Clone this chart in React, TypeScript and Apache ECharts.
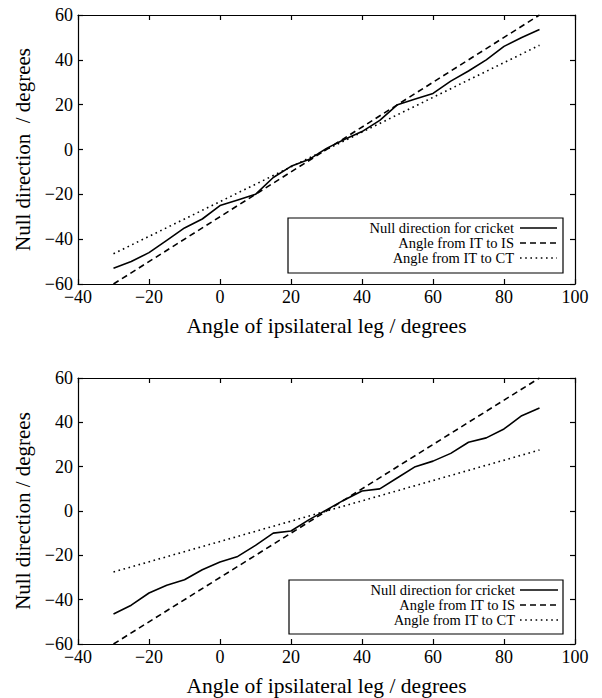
import React, { useEffect, useRef } from "react";
import * as echarts from "echarts";

const angles = [-30, -25, -20, -15, -10, -5, 0, 5, 10, 15, 20, 25, 30, 35, 40, 45, 50, 55, 60, 65, 70, 75, 80, 85, 90];
const nullTop = [-53, -50, -46, -40.5, -35, -31, -25, -22.5, -20, -12.5, -7.5, -4.5, 0.5, 4.5, 8, 13, 20, 22.5, 25, 30.5, 35, 40, 46, 50, 53.5];
const nullBottom = [-46.5, -42.5, -37, -33.5, -31, -26.5, -23, -20.5, -15.5, -10, -9, -4, 0.5, 5, 9, 10, 15, 20, 22.5, 26, 31, 33, 37, 43, 46.5];
const lineEnds = [-30, 90];
const itIsTop = [-60, 60];
const itCtTop = [-46.5, 46.5];
const itIsBottom = [-60, 60];
const itCtBottom = [-27.5, 27.5];
const legendNames = ["Null direction for cricket", "Angle from IT to IS", "Angle from IT to CT"];
const xTitle = "Angle of ipsilateral leg / degrees";
const yTitleTop = "Null direction  / degrees";
const yTitleBottom = "Null direction / degrees";

const FONT = "Liberation Serif";
const pairs = (xs: number[], ys: number[]) => xs.map((x, i) => [x, ys[i]]);
const fmt = (v: number) => String(v).replace("-", "\u2212");

export default function App() {
  const ref = useRef<HTMLDivElement>(null);
  useEffect(() => {
    if (!ref.current) return;
    const chart = echarts.init(ref.current, undefined, { renderer: "svg" });
    const grids = [
      { left: 78, top: 15, width: 497, height: 269 },
      { left: 78, top: 378, width: 497, height: 270 },
    ];
    const tickCommon = { show: true, inside: true, length: 5, lineStyle: { color: "#000", width: 1.2 } };
    const lineCommon = { show: true, onZero: false, lineStyle: { color: "#000", width: 1.2 } };
    const xAxes: any[] = [];
    const yAxes: any[] = [];
    [0, 1].forEach((g) => {
      xAxes.push({
        type: "value", gridIndex: g, position: "bottom", min: -40, max: 100, interval: 20,
        axisLine: lineCommon, axisTick: tickCommon, splitLine: { show: false },
        axisLabel: { color: "#000", fontFamily: FONT, fontSize: 18, margin: 4, formatter: fmt },
        name: xTitle, nameLocation: "middle", nameGap: 31,
        nameTextStyle: { color: "#000", fontFamily: FONT, fontSize: 21.5 },
      });
      xAxes.push({
        type: "value", gridIndex: g, position: "top", min: -40, max: 100, interval: 20,
        axisLine: lineCommon, axisTick: tickCommon, splitLine: { show: false },
        axisLabel: { show: false },
      });
      yAxes.push({
        type: "value", gridIndex: g, position: "left", min: -60, max: 60, interval: 20,
        axisLine: lineCommon, axisTick: tickCommon, splitLine: { show: false },
        axisLabel: { color: "#000", fontFamily: FONT, fontSize: 18, margin: 5, formatter: fmt },
        name: g === 0 ? yTitleTop : yTitleBottom, nameLocation: "middle", nameGap: 43,
        nameTextStyle: { color: "#000", fontFamily: FONT, fontSize: 21 },
      });
      yAxes.push({
        type: "value", gridIndex: g, position: "right", min: -60, max: 60, interval: 20,
        axisLine: lineCommon, axisTick: tickCommon, splitLine: { show: false },
        axisLabel: { show: false },
      });
    });

    const mk = (name: string, data: number[][], g: number, type: any, width: number) => ({
      type: "line", name, data, xAxisIndex: g * 2, yAxisIndex: g * 2,
      showSymbol: false, symbol: "none", silent: true,
      lineStyle: { color: "#000", width, type, cap: "butt" },
    });

    const series = [
      mk(legendNames[0], pairs(angles, nullTop), 0, "solid", 1.6),
      mk(legendNames[1], pairs(lineEnds, itIsTop), 0, [6, 4], 1.6),
      mk(legendNames[2], pairs(lineEnds, itCtTop), 0, [1.6, 3.6], 1.6),
      mk(legendNames[0], pairs(angles, nullBottom), 1, "solid", 1.6),
      mk(legendNames[1], pairs(lineEnds, itIsBottom), 1, [6, 4], 1.6),
      mk(legendNames[2], pairs(lineEnds, itCtBottom), 1, [1.6, 3.6], 1.6),
    ];

    const legendBoxes = [
      { left: 288, top: 218, right: 563, bottom: 273, rows: [228, 243, 258], textRight: 514, l1: 520, l2: 557 },
      { left: 289, top: 580, right: 563, bottom: 634, rows: [590, 605, 620], textRight: 515, l1: 520, l2: 558 },
    ];
    const dashes: any[] = [null, [6, 4], [1.6, 3.6]];
    const graphic: any[] = [];
    legendBoxes.forEach((b) => {
      graphic.push({
        type: "rect", shape: { x: b.left, y: b.top, width: b.right - b.left, height: b.bottom - b.top },
        style: { fill: "#fff", stroke: "#000", lineWidth: 1.2 }, z: 10,
      });
      legendNames.forEach((n, i) => {
        graphic.push({
          type: "text", x: b.textRight, y: b.rows[i], z: 11,
          style: { text: n, fill: "#000", font: `14.5px ${FONT}`, textAlign: "right", textVerticalAlign: "middle" },
        });
        graphic.push({
          type: "line", z: 11,
          shape: { x1: b.l1, y1: b.rows[i], x2: b.l2, y2: b.rows[i] },
          style: { stroke: "#000", lineWidth: 1.6, lineDash: dashes[i] || undefined },
        });
      });
    });

    chart.setOption({
      animation: false,
      backgroundColor: "#fff",
      textStyle: { fontFamily: FONT },
      grid: grids.map((g) => ({ ...g, show: false })),
      xAxis: xAxes,
      yAxis: yAxes,
      series,
      graphic,
    });
    return () => chart.dispose();
  }, []);
  return <div ref={ref} style={{ position: "absolute", left: 0, top: 0, width: 602, height: 698 }} />;
}
